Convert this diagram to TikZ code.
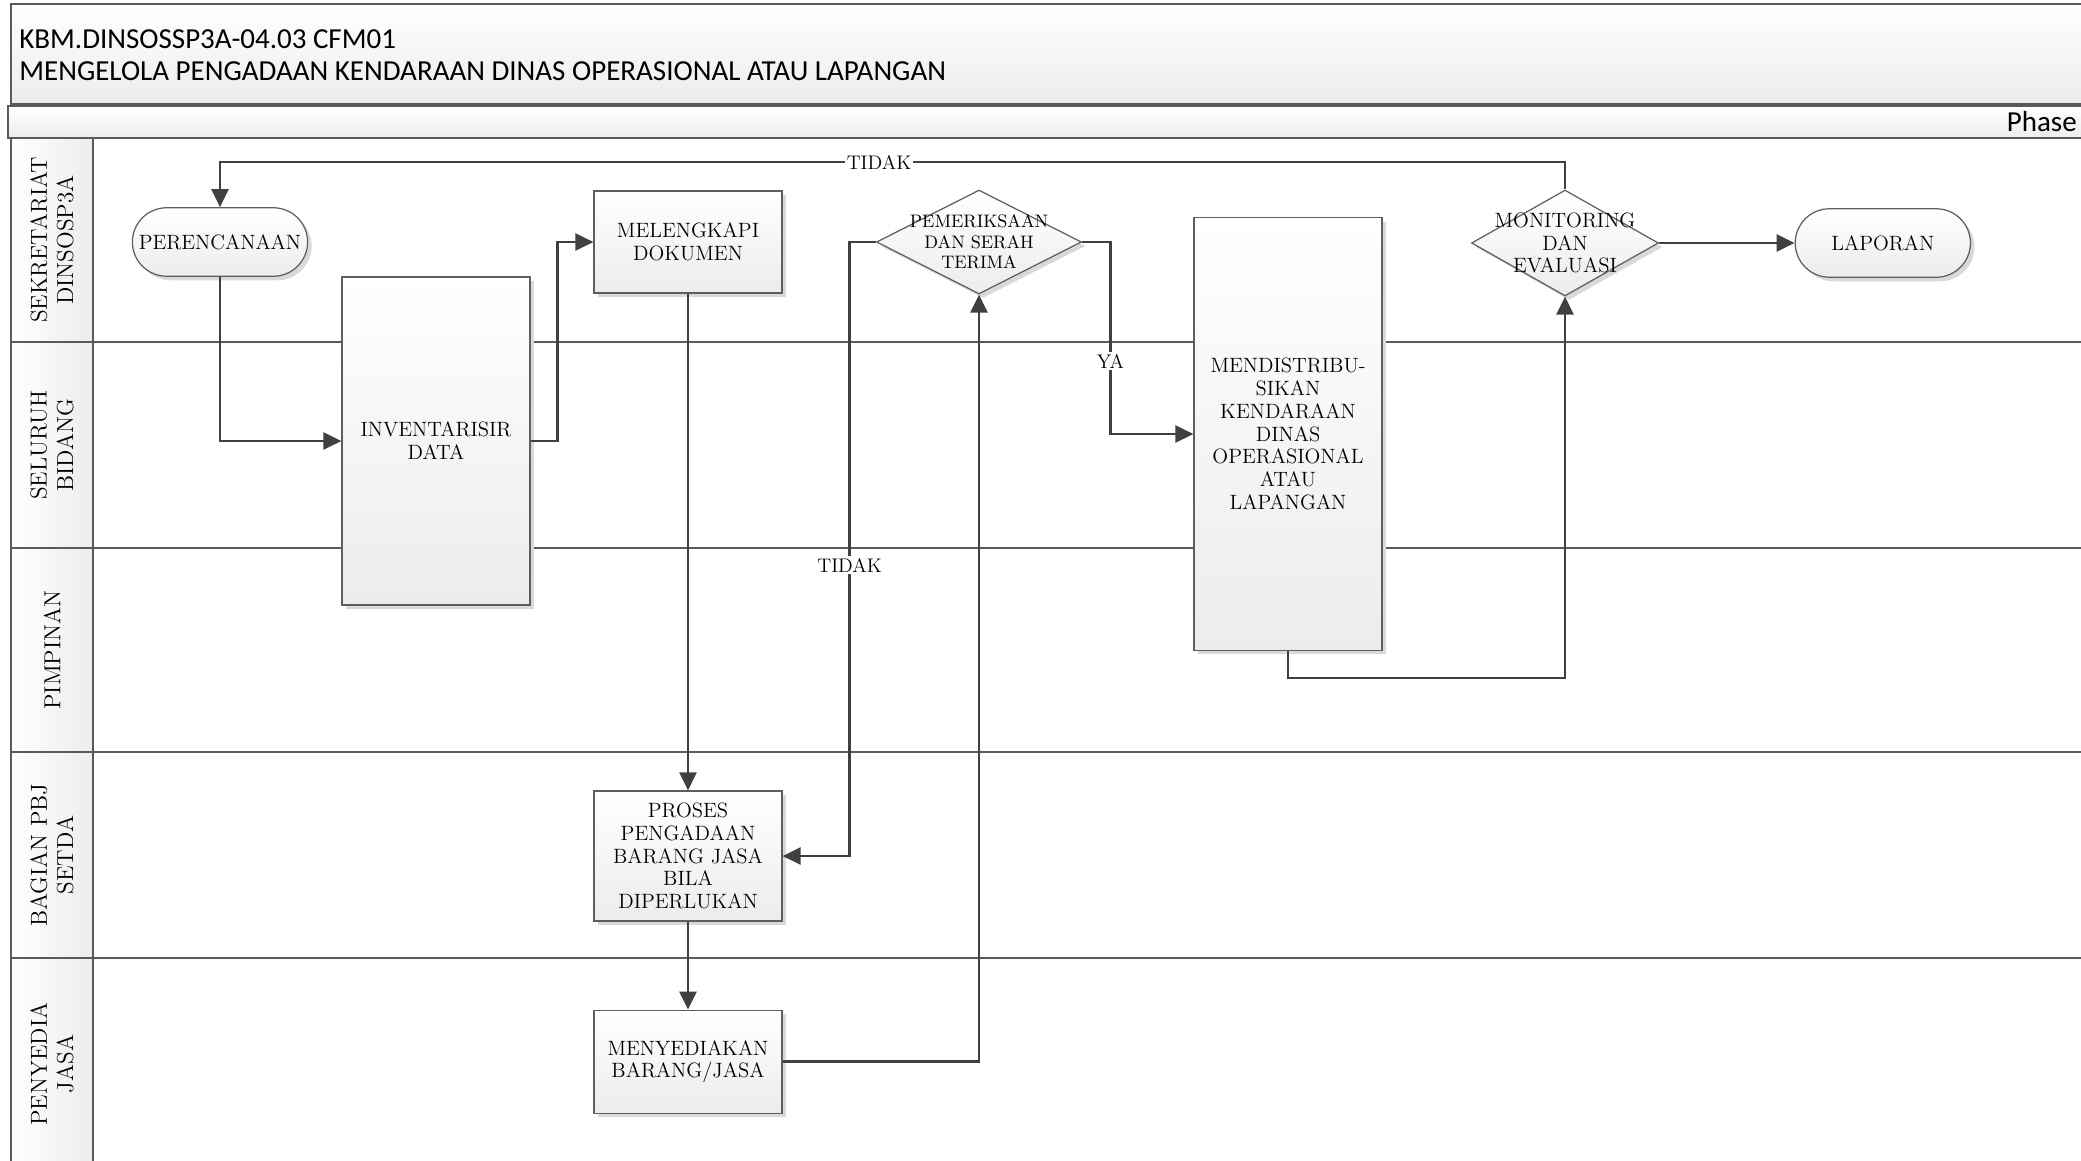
\documentclass[tikz,border=0pt]{standalone}
\usepackage{fontspec}
\newfontfamily\titlefont{Carlito}
\usetikzlibrary{arrows.meta, shapes.geometric, shapes.misc, shadows, positioning, calc}
\definecolor{flowline}{HTML}{404040}
\definecolor{frame}{HTML}{5E5E5E}
\definecolor{lanegray}{HTML}{5A5A5A}
\definecolor{boxbot}{HTML}{ECECEC}
\definecolor{shadowgray}{HTML}{D9D9D9}
\tikzset{
    process/.style={
        rectangle, draw=frame, top color=white, bottom color=boxbot,
        line width=0.7pt, align=center, minimum width=3.76cm,
        font=\fontsize{11.8}{13}\selectfont, inner sep=2pt,
        drop shadow={shadow xshift=0.08cm, shadow yshift=-0.08cm, fill=shadowgray, opacity=1}
    },
    terminal/.style={
        rounded rectangle, draw=frame, top color=white, bottom color=boxbot,
        line width=0.7pt, minimum width=3.74cm, minimum height=1.37cm,
        font=\fontsize{11.8}{13}\selectfont,
        drop shadow={shadow xshift=0.08cm, shadow yshift=-0.08cm, fill=shadowgray, opacity=1}
    },
    decision/.style={
        diamond, draw=frame, top color=white, bottom color=boxbot,
        line width=0.7pt, inner sep=0pt, minimum width=4.1cm, minimum height=2.08cm,
        drop shadow={shadow xshift=0.08cm, shadow yshift=-0.08cm, fill=shadowgray, opacity=1}
    },
    dtext/.style={align=center, inner sep=0pt, font=\fontsize{11.8}{13}\selectfont},
    note/.style={fill=white, inner sep=1pt, font=\fontsize{11.2}{13}\selectfont},
    flow/.style={
        draw=flowline, line width=1.5pt, -{Triangle[length=0.36cm, width=0.34cm]}
    },
    band/.style={draw=lanegray, line width=0.8pt, top color=white, bottom color=boxbot},
    lanehead/.style={draw=lanegray, line width=0.9pt, left color=white, right color=boxbot},
    lanebody/.style={draw=lanegray, line width=0.9pt},
    lanetext/.style={rotate=90, align=center, inner sep=0pt, font=\fontsize{13.2}{15}\selectfont},
    titletext/.style={inner sep=0pt, font=\titlefont\fontsize{16.5}{19}\selectfont}
}
\begin{document}
\begin{tikzpicture}[x=0.02cm, y=-0.02cm]
  \useasboundingbox (0,0) rectangle (2081,1160);
  \clip (0,0) rectangle (2081,1160);

  % title and phase bar
  \draw[band] (11,4) rectangle (2100,104);
  \draw[band] (8,106) rectangle (2100,138);
  \node[titletext, anchor=west] (code) at (19,39) {KBM.DINSOSSP3A-04.03 CFM01};
  \node[titletext, anchor=west] (title) at (19,71) {MENGELOLA PENGADAAN KENDARAAN DINAS OPERASIONAL ATAU LAPANGAN};
  \node[titletext, anchor=east] (phase) at (2077,122) {Phase};

  % swimlanes
  \foreach \ytop/\ybot/\who [count=\i] in {138/342/{SEKRETARIAT\\DINSOSP3A}, 342/548/{SELURUH\\BIDANG}, 548/752/PIMPINAN, 752/958/{BAGIAN PBJ\\SETDA}, 958/1170/{PENYEDIA\\JASA}}{
    \draw[lanehead] (11,\ytop) rectangle (93,\ybot);
    \draw[lanebody] (93,\ytop) rectangle (2100,\ybot);
    \node[lanetext] (lane\i) at (52,{(\ytop+\ybot)/2}) {\who};
  }

  % steps
  \node[terminal] (plan) at (220,242) {PERENCANAAN};
  \node[process, minimum height=6.56cm] (inv) at (436,441) {INVENTARISIR\\DATA};
  \node[process, minimum height=2.04cm] (docs) at (688,242) {MELENGKAPI\\DOKUMEN};
  \node[decision] (check) at (979,242) {};
  \node[dtext, font=\fontsize{10.3}{11.6}\selectfont] (checktext) at (check) {PEMERIKSAAN\\DAN SERAH\\TERIMA};
  \node[process, minimum height=8.66cm] (dist) at (1288,434) {MENDISTRIBU-\\SIKAN\\KENDARAAN\\DINAS\\OPERASIONAL\\ATAU\\LAPANGAN};
  \node[decision, minimum width=3.74cm, minimum height=2.12cm] (monev) at (1565,243) {};
  \node[dtext] (monevtext) at (monev) {MONITORING\\DAN\\EVALUASI};
  \node[terminal, right=2.71cm of monev] (report) {LAPORAN};
  \node[process, minimum height=2.6cm] (proc) at (688,856) {PROSES\\PENGADAAN\\BARANG JASA\\BILA\\DIPERLUKAN};
  \node[process, minimum height=2.06cm, below=1.76cm of proc] (supply) {MENYEDIAKAN\\BARANG/JASA};

  % connectors
  \draw[flow] (monev.north) -- (monev.north |- 0,162) -| (plan.north) node[note, pos=0.255] (tidaka) {TIDAK};
  \draw[flow] (plan.south) |- (inv.west);
  \draw[flow] (inv.east) -| ([xshift=-0.72cm]docs.west) -- (docs.west);
  \draw[flow] (docs.south) -- (proc.north);
  \draw[flow] (proc.south) -- (supply.north);
  \draw[flow] (supply.east) -| (check.south);
  \draw[flow] (check.west) -| ([xshift=1.34cm]proc.east) node[note, pos=0.763] (tidakb) {TIDAK} -- (proc.east);
  \draw[flow] (check.east) -| ([xshift=-1.66cm]dist.west) node[note, pos=0.81] (ya) {YA} -- (dist.west);
  \draw[flow] (dist.south) -- ++(0,-0.54cm) -| (monev.south);
  \draw[flow] (monev.east) -- (report.west);
\end{tikzpicture}
\end{document}
